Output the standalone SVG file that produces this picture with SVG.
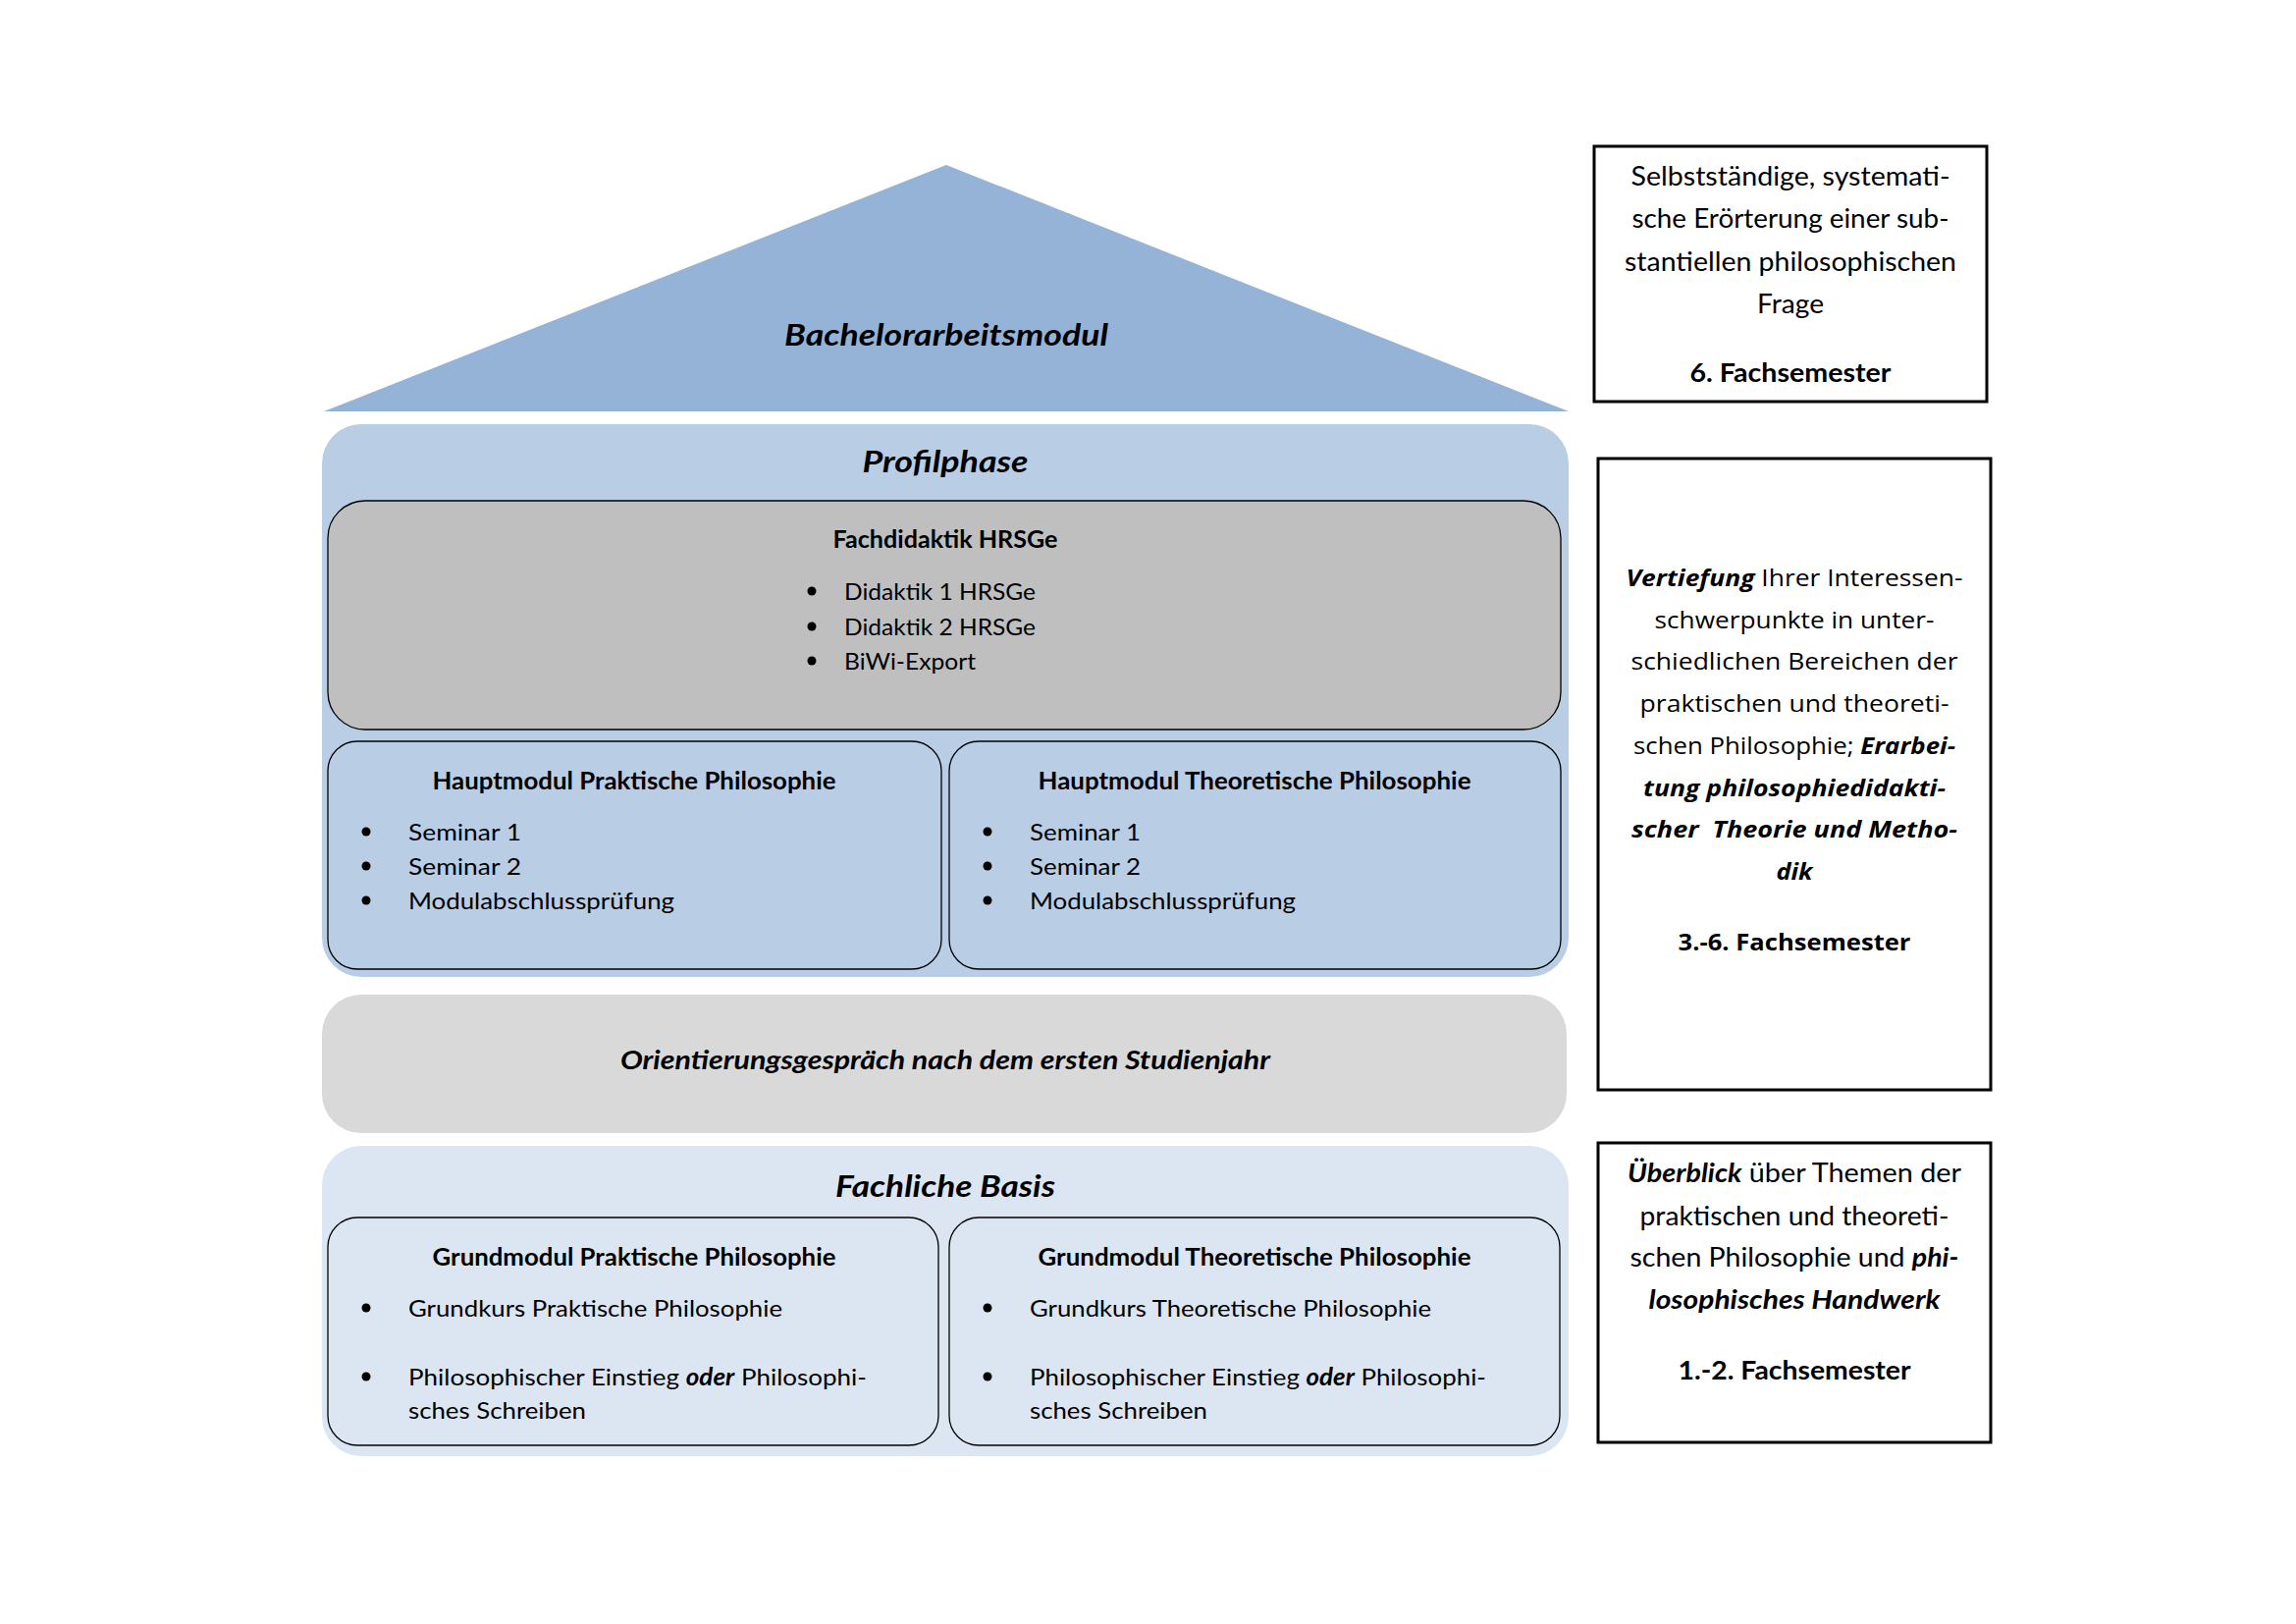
<svg xmlns="http://www.w3.org/2000/svg" width="2339" height="1654" viewBox="0 0 2339 1654">
<style>
text { font-family: Lato, "Liberation Sans", sans-serif; fill: #000; }
.title { font-size: 30px; font-weight: bold; font-style: italic; text-anchor: middle; }
.mh { font-size: 24px; font-weight: bold; text-anchor: middle; }
.mi { font-size: 24px; }
.d { font-size: 27px; text-anchor: middle; }
.dm { font-family: "Open Sans", "DejaVu Sans", sans-serif; font-size: 24px; text-anchor: middle; }
.bi { font-weight: bold; font-style: italic; }
.b { font-weight: bold; }
.mod { fill: none; stroke: #000; stroke-width: 1.3; }
.desc { fill: #fff; stroke: #000; stroke-width: 3; }
.bul { fill: #000; }
</style>
<rect width="2339" height="1654" fill="#fff"/>

<g id="bachelorarbeitsmodul">
  <polygon points="964,168 1598,419 330,419" fill="#95B3D7"/>
  <text class="title" x="964" y="352" textLength="330" lengthAdjust="spacingAndGlyphs">Bachelorarbeitsmodul</text>
</g>

<g id="profilphase">
  <rect x="328" y="432" width="1270" height="563" rx="40" fill="#B9CDE5"/>
  <text class="title" x="963" y="481" textLength="169" lengthAdjust="spacingAndGlyphs">Profilphase</text>
</g>

<g id="fachdidaktik">
  <rect x="334" y="510" width="1256" height="233" rx="38" fill="#BFBFBF" stroke="#000" stroke-width="1.3"/>
  <text class="mh" x="963" y="558" textLength="229" lengthAdjust="spacingAndGlyphs">Fachdidaktik HRSGe</text>
  <circle class="bul" cx="827" cy="602" r="4.5"/>
  <text class="mi" x="860" y="611" textLength="195" lengthAdjust="spacingAndGlyphs">Didaktik 1 HRSGe</text>
  <circle class="bul" cx="827" cy="638" r="4.5"/>
  <text class="mi" x="860" y="647" textLength="195" lengthAdjust="spacingAndGlyphs">Didaktik 2 HRSGe</text>
  <circle class="bul" cx="827" cy="673" r="4.5"/>
  <text class="mi" x="860" y="682" textLength="134" lengthAdjust="spacingAndGlyphs">BiWi-Export</text>
</g>

<g id="hauptmodul-praktisch">
  <rect class="mod" x="334" y="755" width="625" height="232" rx="30"/>
  <text class="mh" x="646" y="804" textLength="411" lengthAdjust="spacingAndGlyphs">Hauptmodul Praktische Philosophie</text>
  <circle class="bul" cx="373" cy="847" r="4.5"/>
  <text class="mi" x="416" y="856" textLength="115" lengthAdjust="spacingAndGlyphs">Seminar 1</text>
  <circle class="bul" cx="373" cy="882" r="4.5"/>
  <text class="mi" x="416" y="891" textLength="115" lengthAdjust="spacingAndGlyphs">Seminar 2</text>
  <circle class="bul" cx="373" cy="917" r="4.5"/>
  <text class="mi" x="416" y="926" textLength="271" lengthAdjust="spacingAndGlyphs">Modulabschlussprüfung</text>
</g>

<g id="hauptmodul-theoretisch">
  <rect class="mod" x="967" y="755" width="623" height="232" rx="30"/>
  <text class="mh" x="1278" y="804" textLength="441" lengthAdjust="spacingAndGlyphs">Hauptmodul Theoretische Philosophie</text>
  <circle class="bul" cx="1006" cy="847" r="4.5"/>
  <text class="mi" x="1049" y="856" textLength="113" lengthAdjust="spacingAndGlyphs">Seminar 1</text>
  <circle class="bul" cx="1006" cy="882" r="4.5"/>
  <text class="mi" x="1049" y="891" textLength="113" lengthAdjust="spacingAndGlyphs">Seminar 2</text>
  <circle class="bul" cx="1006" cy="917" r="4.5"/>
  <text class="mi" x="1049" y="926" textLength="271" lengthAdjust="spacingAndGlyphs">Modulabschlussprüfung</text>
</g>

<g id="orientierung">
  <rect x="328" y="1013" width="1268" height="141" rx="40" fill="#D9D9D9"/>
  <text class="title" x="963" y="1089" textLength="662" lengthAdjust="spacingAndGlyphs" style="font-size:27px">Orientierungsgespräch nach dem ersten Studienjahr</text>
</g>

<g id="fachliche-basis">
  <rect x="328" y="1167" width="1270" height="316" rx="40" fill="#DCE6F2"/>
  <text class="title" x="963" y="1219" textLength="224" lengthAdjust="spacingAndGlyphs">Fachliche Basis</text>
</g>

<g id="grundmodul-praktisch">
  <rect class="mod" x="334" y="1240" width="622" height="232" rx="30"/>
  <text class="mh" x="646" y="1289" textLength="411" lengthAdjust="spacingAndGlyphs">Grundmodul Praktische Philosophie</text>
  <circle class="bul" cx="373" cy="1332" r="4.5"/>
  <text class="mi" x="416" y="1341" textLength="381" lengthAdjust="spacingAndGlyphs">Grundkurs Praktische Philosophie</text>
  <circle class="bul" cx="373" cy="1402" r="4.5"/>
  <text class="mi" x="416" y="1411" textLength="467" lengthAdjust="spacingAndGlyphs">Philosophischer Einstieg <tspan class="bi">oder</tspan> Philosophi-</text>
  <text class="mi" x="416" y="1445" textLength="181" lengthAdjust="spacingAndGlyphs">sches Schreiben</text>
</g>

<g id="grundmodul-theoretisch">
  <rect class="mod" x="967" y="1240" width="622" height="232" rx="30"/>
  <text class="mh" x="1278" y="1289" textLength="441" lengthAdjust="spacingAndGlyphs">Grundmodul Theoretische Philosophie</text>
  <circle class="bul" cx="1006" cy="1332" r="4.5"/>
  <text class="mi" x="1049" y="1341" textLength="409" lengthAdjust="spacingAndGlyphs">Grundkurs Theoretische Philosophie</text>
  <circle class="bul" cx="1006" cy="1402" r="4.5"/>
  <text class="mi" x="1049" y="1411" textLength="465" lengthAdjust="spacingAndGlyphs">Philosophischer Einstieg <tspan class="bi">oder</tspan> Philosophi-</text>
  <text class="mi" x="1049" y="1445" textLength="181" lengthAdjust="spacingAndGlyphs">sches Schreiben</text>
</g>

<g id="beschreibung-6">
  <rect class="desc" x="1624" y="149" width="400" height="260"/>
  <text class="d" x="1824" y="189" textLength="325" lengthAdjust="spacingAndGlyphs">Selbstständige, systemati-</text>
  <text class="d" x="1824" y="232" textLength="323" lengthAdjust="spacingAndGlyphs">sche Erörterung einer sub-</text>
  <text class="d" x="1824" y="276" textLength="338" lengthAdjust="spacingAndGlyphs">stantiellen philosophischen</text>
  <text class="d" x="1824" y="319" textLength="68" lengthAdjust="spacingAndGlyphs">Frage</text>
  <text class="d b" x="1824" y="389" textLength="205" lengthAdjust="spacingAndGlyphs">6. Fachsemester</text>
</g>

<g id="beschreibung-3-6">
  <rect class="desc" x="1628" y="467" width="400" height="643"/>
  <text class="dm" x="1828" y="597" textLength="343" lengthAdjust="spacingAndGlyphs"><tspan class="bi">Vertiefung</tspan> Ihrer Interessen-</text>
  <text class="dm" x="1828" y="640" textLength="285" lengthAdjust="spacingAndGlyphs">schwerpunkte in unter-</text>
  <text class="dm" x="1828" y="682" textLength="333" lengthAdjust="spacingAndGlyphs">schiedlichen Bereichen der</text>
  <text class="dm" x="1828" y="725" textLength="315" lengthAdjust="spacingAndGlyphs">praktischen und theoreti-</text>
  <text class="dm" x="1828" y="768" textLength="328" lengthAdjust="spacingAndGlyphs">schen Philosophie; <tspan class="bi">Erarbei-</tspan></text>
  <text class="dm bi" x="1828" y="811" textLength="308" lengthAdjust="spacingAndGlyphs">tung philosophiedidakti-</text>
  <text class="dm bi" x="1828" y="853" textLength="332" lengthAdjust="spacingAndGlyphs" xml:space="preserve">scher  Theorie und Metho-</text>
  <text class="dm bi" x="1828" y="896" textLength="37" lengthAdjust="spacingAndGlyphs">dik</text>
  <text class="dm b" x="1828" y="968" textLength="237" lengthAdjust="spacingAndGlyphs">3.-6. Fachsemester</text>
</g>

<g id="beschreibung-1-2">
  <rect class="desc" x="1628" y="1164" width="400" height="305"/>
  <text class="d" x="1828" y="1204" textLength="340" lengthAdjust="spacingAndGlyphs"><tspan class="bi">Überblick</tspan> über Themen der</text>
  <text class="d" x="1828" y="1248" textLength="315" lengthAdjust="spacingAndGlyphs">praktischen und theoreti-</text>
  <text class="d" x="1828" y="1290" textLength="335" lengthAdjust="spacingAndGlyphs">schen Philosophie und <tspan class="bi">phi-</tspan></text>
  <text class="d bi" x="1828" y="1333" textLength="297" lengthAdjust="spacingAndGlyphs">losophisches Handwerk</text>
  <text class="d b" x="1828" y="1405" textLength="237" lengthAdjust="spacingAndGlyphs">1.-2. Fachsemester</text>
</g>

<g id="connectors"></g>
</svg>
